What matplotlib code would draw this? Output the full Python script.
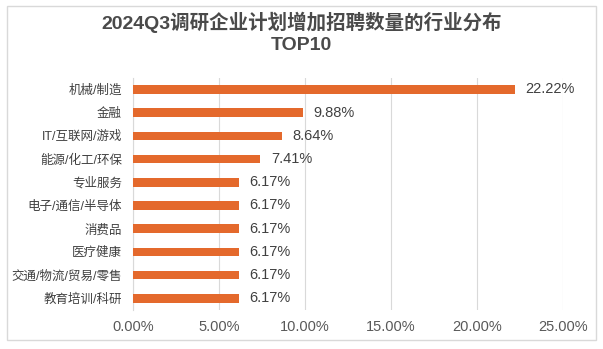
import matplotlib.pyplot as plt
from matplotlib.patches import Rectangle
from matplotlib.ticker import FuncFormatter

plt.rcParams['font.family'] = ['Liberation Sans', 'Noto Sans CJK SC', 'DejaVu Sans']

# data, top to bottom as in the chart
industries = ['机械/制造', '金融', 'IT/互联网/游戏', '能源/化工/环保', '专业服务',
              '电子/通信/半导体', '消费品', '医疗健康', '交通/物流/贸易/零售', '教育培训/科研']
shares = [22.22, 9.88, 8.64, 7.41, 6.17, 6.17, 6.17, 6.17, 6.17, 6.17]
x_ticks = [0, 5, 10, 15, 20, 25]

bar_color = '#E4692C'
text_color = '#404040'

fig = plt.figure(figsize=(6.03, 3.49), dpi=100)
ax = fig.add_axes([0.2206, 0.112, 0.7131, 0.665])

# outer frame of the chart
fig.patches.append(Rectangle((0.012, 0.025), 0.976, 0.957, transform=fig.transFigure,
                             fill=False, edgecolor='#D9D9D9', linewidth=1.0))

ypos = list(range(len(industries)))
ax.barh(ypos, shares, height=0.37, color=bar_color, zorder=3)

for y, v in zip(ypos, shares):
    ax.text(v + 0.6, y, f'{v:.2f}%', va='center', ha='left',
            fontsize=10.5, color=text_color)

ax.set_ylim(len(industries) - 0.5, -0.5)
ax.set_xlim(0, 25)
ax.set_yticks(ypos)
ax.set_yticklabels(industries, fontsize=9, color=text_color)
ax.set_xticks(x_ticks)
ax.xaxis.set_major_formatter(FuncFormatter(lambda v, p: f'{v:.2f}%'))
ax.tick_params(axis='x', labelsize=10.5, labelcolor='#595959', length=0, pad=7)
ax.tick_params(axis='y', length=0, pad=8)

ax.grid(axis='x', color='#D9D9D9', linewidth=0.8, zorder=0)
for s in ['top', 'right', 'bottom']:
    ax.spines[s].set_visible(False)
ax.spines['left'].set_color('#D9D9D9')
ax.spines['left'].set_linewidth(0.8)

fig.text(0.5, 0.935, '2024Q3调研企业计划增加招聘数量的行业分布', ha='center', va='center',
         fontsize=14, color='#4A4A4A', fontweight='bold')
fig.text(0.5, 0.87, 'TOP10', ha='center', va='center',
         fontsize=14, color='#4A4A4A', fontweight='bold')

fig.savefig('out.png', dpi=100)
